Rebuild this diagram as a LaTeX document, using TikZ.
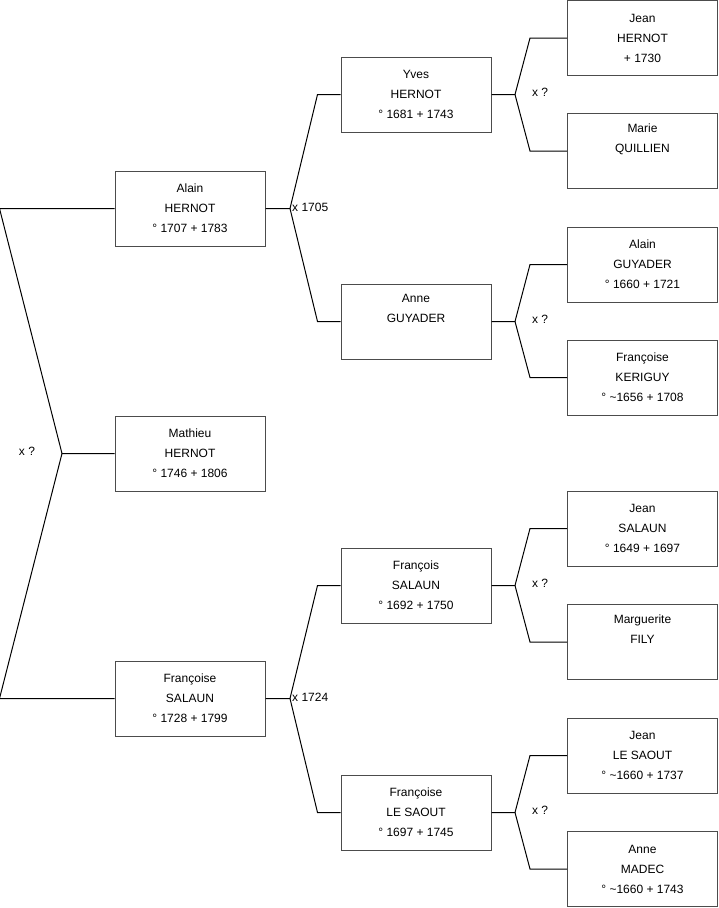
\documentclass[tikz,border=0pt]{standalone}
\usepackage{fontspec}
\setmainfont{Liberation Sans}
\usetikzlibrary{calc}

\begin{document}
\begin{tikzpicture}[x=1pt, y=-1pt,
person/.style={draw=black!70, line width=1pt, align=center, minimum width=150pt, minimum height=75pt, inner sep=0pt, font=\fontsize{12}{20}\selectfont},
link/.style={line width=1pt},
union/.style={font=\fontsize{12}{14}\selectfont, inner sep=0pt}
]
\useasboundingbox (0,0) rectangle (719,908);
% generation 0 and 1
\node[person] (mathieu) at (190,453.5) {Mathieu\\HERNOT\\° 1746 + 1806};
\node[person] (alainH) at (190,208.5) {Alain\\HERNOT\\° 1707 + 1783};
\node[person] (francoiseS) at (190,698.5) {Françoise\\SALAUN\\° 1728 + 1799};
% generation 2
\node[person] (yves) at (416,94.5) {Yves\\HERNOT\\° 1681 + 1743};
\node[person] (anneG) at (416,321.5) {Anne\\GUYADER\\\strut};
\node[person] (francois) at (416,585.5) {François\\SALAUN\\° 1692 + 1750};
\node[person] (francoiseLS) at (416,812.5) {Françoise\\LE SAOUT\\° 1697 + 1745};
% generation 3
\node[person] (jeanH) at (642.5,38) {Jean\\HERNOT\\+ 1730};
\node[person] (marieQ) at (642.5,151) {Marie\\QUILLIEN\\\strut};
\node[person] (alainG) at (642.5,264.5) {Alain\\GUYADER\\° 1660 + 1721};
\node[person] (francoiseK) at (642.5,377.5) {Françoise\\KERIGUY\\° \textasciitilde1656 + 1708};
\node[person] (jeanS) at (642.5,528.5) {Jean\\SALAUN\\° 1649 + 1697};
\node[person] (margueriteF) at (642.5,642) {Marguerite\\FILY\\\strut};
\node[person] (jeanLS) at (642.5,755.5) {Jean\\LE SAOUT\\° \textasciitilde1660 + 1737};
\node[person] (anneM) at (642.5,869) {Anne\\MADEC\\° \textasciitilde1660 + 1743};

% junctions
\coordinate (j0) at (62,453.5);
\coordinate (j1) at (290,208.5);
\coordinate (j2) at (290,698.5);
\coordinate (j3) at (515,94.5);
\coordinate (j4) at (515,321.5);
\coordinate (j5) at (515,585.5);
\coordinate (j6) at (515,812.5);

\draw[link] (mathieu.west) -- (j0) -- ($(alainH.west)+(-115,0)$) -- (alainH.west);
\draw[link] (j0) -- ($(francoiseS.west)+(-115,0)$) -- (francoiseS.west);
\draw[link] (alainH.east) -- (j1) -- ($(yves.west)+(-23,0)$) -- (yves.west);
\draw[link] (j1) -- ($(anneG.west)+(-23,0)$) -- (anneG.west);
\draw[link] (francoiseS.east) -- (j2) -- ($(francois.west)+(-23,0)$) -- (francois.west);
\draw[link] (j2) -- ($(francoiseLS.west)+(-23,0)$) -- (francoiseLS.west);
\draw[link] (yves.east) -- (j3) -- ($(jeanH.west)+(-37,0)$) -- (jeanH.west);
\draw[link] (j3) -- ($(marieQ.west)+(-37,0)$) -- (marieQ.west);
\draw[link] (anneG.east) -- (j4) -- ($(alainG.west)+(-37,0)$) -- (alainG.west);
\draw[link] (j4) -- ($(francoiseK.west)+(-37,0)$) -- (francoiseK.west);
\draw[link] (francois.east) -- (j5) -- ($(jeanS.west)+(-37,0)$) -- (jeanS.west);
\draw[link] (j5) -- ($(margueriteF.west)+(-37,0)$) -- (margueriteF.west);
\draw[link] (francoiseLS.east) -- (j6) -- ($(jeanLS.west)+(-37,0)$) -- (jeanLS.west);
\draw[link] (j6) -- ($(anneM.west)+(-37,0)$) -- (anneM.west);

% marriage labels
\node[union] (m0) at (27,451) {x ?};
\node[union, anchor=west] (m1) at (292,207) {x 1705};
\node[union, anchor=west] (m2) at (292,697) {x 1724};
\node[union] (m3) at (540,92) {x ?};
\node[union] (m4) at (540,319.5) {x ?};
\node[union] (m5) at (540,583) {x ?};
\node[union] (m6) at (540,810) {x ?};
\end{tikzpicture}
\end{document}
